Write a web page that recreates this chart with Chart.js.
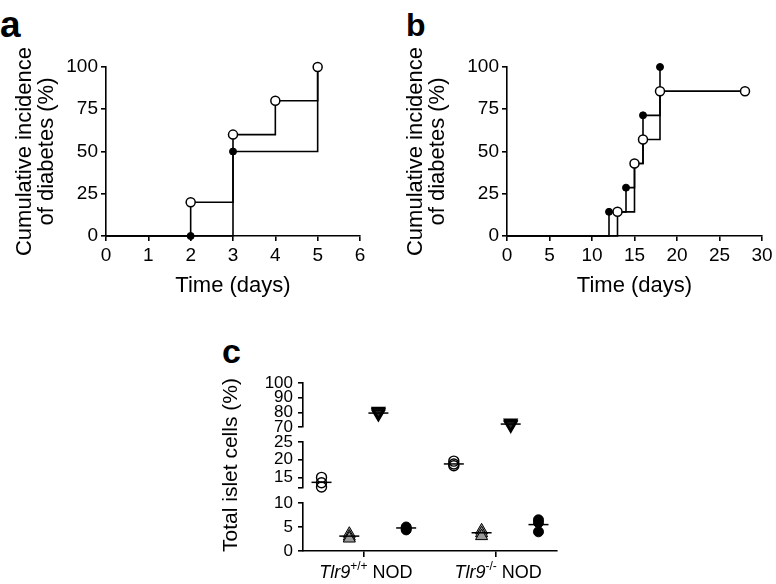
<!DOCTYPE html>
<html>
<head>
<meta charset="utf-8">
<script src="https://cdn.jsdelivr.net/npm/chart.js@4"></script>
<style>
  body { margin: 0; width: 776px; height: 584px; position: relative; background: #fff; overflow: hidden; }
  .panel { position: absolute; }
  .tag { position: absolute; font-family: 'Liberation Sans', Arial, sans-serif; font-weight: bold; line-height: 1; color: #000; }
</style>
</head>
<body>
<div class="tag" style="left:0px;top:6px;font-size:37px">a</div>
<div class="tag" style="left:406px;top:9px;font-size:32px">b</div>
<div class="tag" style="left:222px;top:334px;font-size:34px">c</div>

<canvas class="panel" id="chartA" width="390" height="305" style="left:0;top:0"></canvas>
<canvas class="panel" id="chartB" width="386" height="305" style="left:390px;top:0"></canvas>
<canvas class="panel" id="chartC" width="400" height="284" style="left:180px;top:300px"></canvas>

<script>
// panel a - cumulative incidence (day, %)
const aOpenDays = [0, 2, 3, 4, 5];
const aOpenPct = [0, 20, 60, 80, 100];
const aFilledDays = [0, 2, 3, 5];
const aFilledPct = [0, 0, 50, 100];
const aDayTicks = [0, 1, 2, 3, 4, 5, 6];

// panel b
const bOpenDays = [0, 13, 15, 16, 18, 28];
const bOpenPct = [0, 14.3, 42.9, 57.1, 85.7, 85.7];
const bFilledDays = [0, 12, 14, 15, 16, 18];
const bFilledPct = [0, 14.3, 28.6, 42.9, 71.4, 100];
const bDayTicks = [0, 5, 10, 15, 20, 25, 30];

const incidenceTicks = [0, 25, 50, 75, 100];

// panel c - islet cell composition, one value per mouse, two genotypes
const groups = [1, 2];
const geneName = 'Tlr9';
const genotypes = ['+/+', '-/-'];
const strain = 'NOD';
const openCircle = [[15.0, 13.5, 12.3], [19.6, 18.8, 18.3]];
const openCircleMean = [13.6, 18.8];
const grayTriangle = [[3.6, 3.0, 2.6], [4.3, 3.7, 3.1]];
const grayTriangleMean = [3.1, 3.8];
const downTriangle = [[80.8, 80.0, 79.0], [72.8, 72.0, 71.3]];
const downTriangleMean = [79.5, 72.0];
const filledCircle = [[5.0, 4.7, 4.4], [6.5, 5.9, 4.0]];
const filledCircleMean = [4.8, 5.5];
const topTicks = [70, 80, 90, 100];
const midTicks = [12, 15, 20, 25];
const lowTicks = [0, 5, 10];

Chart.defaults.font.family = "'Liberation Sans', Arial, sans-serif";
Chart.defaults.color = '#000';

const toPoints = (xs, ys) => xs.map((x, i) => ({ x: x, y: ys[i] }));
const fixedTicks = list => scale => { scale.ticks = list.map(v => ({ value: v })); };

function survivalChart(id, openPts, filledPts, dayTicks, dayMax, yWidth, titlePad, rightPad) {
  new Chart(document.getElementById(id), {
    type: 'line',
    data: {
      datasets: [
        {
          label: 'open',
          data: openPts,
          stepped: true,
          borderColor: '#000',
          borderWidth: 1.6,
          pointBackgroundColor: '#fff',
          pointBorderColor: '#000',
          pointBorderWidth: 1.5,
          pointRadius: c => (c.raw && c.raw.x === 0 ? 0 : 4.5),
          clip: false
        },
        {
          label: 'filled',
          data: filledPts,
          stepped: true,
          borderColor: '#000',
          borderWidth: 1.6,
          pointBackgroundColor: '#000',
          pointBorderColor: '#000',
          pointBorderWidth: 1,
          pointRadius: c => (c.raw && c.raw.x === 0 ? 0 : 3.5),
          clip: false
        }
      ]
    },
    options: {
      responsive: false,
      animation: false,
      events: [],
      layout: { padding: { top: 67, right: rightPad, bottom: 0, left: 0 } },
      plugins: { legend: { display: false }, tooltip: { enabled: false } },
      scales: {
        x: {
          type: 'linear', min: 0, max: dayMax,
          afterBuildTicks: fixedTicks(dayTicks),
          ticks: { font: { size: 19 }, padding: 3, color: '#000' },
          grid: { drawOnChartArea: false, tickLength: 5, color: '#000', lineWidth: 1.6 },
          border: { color: '#000', width: 1.6 },
          title: { display: true, text: 'Time (days)', color: '#000', font: { size: 22, lineHeight: 1 }, padding: { top: 0, bottom: 8 } },
          afterFit: s => { s.height = 69; }
        },
        y: {
          type: 'linear', min: 0, max: 100,
          afterBuildTicks: fixedTicks(incidenceTicks),
          ticks: { font: { size: 19 }, padding: 3, color: '#000' },
          grid: { drawOnChartArea: false, tickLength: 5, color: '#000', lineWidth: 1.6 },
          border: { color: '#000', width: 1.6 },
          title: { display: true, text: ['Cumulative incidence', 'of diabetes (%)'], color: '#000', font: { size: 22, lineHeight: 1 }, padding: { top: titlePad, bottom: 0 } },
          afterFit: s => { s.width = yWidth; }
        }
      }
    }
  });
}

survivalChart('chartA', toPoints(aOpenDays, aOpenPct), toPoints(aFilledDays, aFilledPct), aDayTicks, 6, 106, 14, 30);
survivalChart('chartB', toPoints(bOpenDays, bOpenPct), toPoints(bFilledDays, bFilledPct), bDayTicks, 30, 117, 15, 14);

// panel c
const colShift = { openCircle: -0.32, grayTriangle: -0.11, downTriangle: 0.11, filledCircle: 0.32 };

function columnPoints(values, shift) {
  const pts = [];
  values.forEach((list, g) => list.forEach(v => pts.push({ x: groups[g] + shift, y: v })));
  return pts;
}
function meanPoints(means, shift) {
  return means.map((v, g) => ({ x: groups[g] + shift, y: v }));
}
function meanSet(means, shift, axis) {
  return {
    data: meanPoints(means, shift), yAxisID: axis,
    pointStyle: 'line', pointRadius: 10, pointBorderColor: '#000', pointBorderWidth: 1.5, clip: false
  };
}

const genotypeLabels = {
  id: 'genotypeLabels',
  afterDraw(chart) {
    const { ctx } = chart;
    const x = chart.scales.x;
    const family = "'Liberation Sans', Arial, sans-serif";
    ctx.save();
    ctx.fillStyle = '#000';
    ctx.textBaseline = 'alphabetic';
    ctx.textAlign = 'left';
    groups.forEach((g, i) => {
      const parts = [
        { t: geneName, f: 'italic 18px ' + family, dy: 0 },
        { t: genotypes[i], f: '12px ' + family, dy: -8 },
        { t: ' ' + strain, f: '18px ' + family, dy: 0 }
      ];
      let total = 0;
      parts.forEach(p => { ctx.font = p.f; p.w = ctx.measureText(p.t).width; total += p.w; });
      let cx = x.getPixelForValue(g) - total / 2 + 2;
      const base = x.top + 27;
      parts.forEach(p => { ctx.font = p.f; ctx.fillText(p.t, cx, base + p.dy); cx += p.w; });
    });
    ctx.restore();
  }
};

const segAxis = (min, max, ticks, weight, extra) => Object.assign({
  type: 'linear', axis: 'y', position: 'left', stack: 'cells', stackWeight: weight,
  min: min, max: max,
  afterBuildTicks: fixedTicks(ticks),
  ticks: { font: { size: 17, lineHeight: 1 }, padding: 5, color: '#000', autoSkip: false,
           callback: v => (v % 5 === 0 ? String(v) : '') },
  grid: { drawOnChartArea: false, tickLength: 5, color: '#000', lineWidth: 1.6 },
  border: { color: '#000', width: 1.6 },
  afterFit: s => { s.width = 123; }
}, extra || {});

const gapAxis = weight => ({
  type: 'linear', axis: 'y', position: 'left', stack: 'cells', stackWeight: weight,
  min: 0, max: 1,
  ticks: { display: false },
  grid: { display: false },
  border: { display: false },
  afterFit: s => { s.width = 123; }
});

new Chart(document.getElementById('chartC'), {
  type: 'scatter',
  data: {
    datasets: [
      meanSet(openCircleMean, colShift.openCircle, 'yMid'),
      meanSet(grayTriangleMean, colShift.grayTriangle, 'yLow'),
      meanSet(downTriangleMean, colShift.downTriangle, 'yTop'),
      meanSet(filledCircleMean, colShift.filledCircle, 'yLow'),
      {
        data: columnPoints(openCircle, colShift.openCircle), yAxisID: 'yMid',
        pointStyle: 'circle', pointRadius: 5, pointBackgroundColor: 'rgba(0,0,0,0)', pointBorderColor: '#000', pointBorderWidth: 1.4, clip: false
      },
      {
        data: columnPoints(grayTriangle, colShift.grayTriangle), yAxisID: 'yLow',
        pointStyle: 'triangle', pointRadius: 7, pointBackgroundColor: '#9a9a9a', pointBorderColor: '#000', pointBorderWidth: 1, clip: false
      },
      {
        data: columnPoints(downTriangle, colShift.downTriangle), yAxisID: 'yTop',
        pointStyle: 'triangle', rotation: 180, pointRadius: 7, pointBackgroundColor: 'rgba(0,0,0,0.45)', pointBorderColor: '#000', pointBorderWidth: 1.8, clip: false
      },
      {
        data: columnPoints(filledCircle, colShift.filledCircle), yAxisID: 'yLow',
        pointStyle: 'circle', pointRadius: 5, pointBackgroundColor: '#000', pointBorderColor: '#000', pointBorderWidth: 1, clip: false
      }
    ]
  },
  options: {
    responsive: false,
    animation: false,
    events: [],
    layout: { padding: { top: 83, right: 23, bottom: 0, left: 0 } },
    plugins: { legend: { display: false }, tooltip: { enabled: false } },
    scales: {
      x: {
        type: 'linear', min: 0.54, max: 2.46,
        afterBuildTicks: fixedTicks(groups),
        ticks: { callback: () => '', font: { size: 18 } },
        grid: { drawOnChartArea: false, tickLength: 6, color: '#000', lineWidth: 1.6 },
        border: { color: '#000', width: 1.6 },
        afterFit: s => { s.height = 33; }
      },
      yLow: segAxis(0, 10, lowTicks, 48),
      gapLow: gapAxis(15),
      yMid: segAxis(12, 25, midTicks, 46, {
        title: { display: true, text: 'Total islet cells (%)', color: '#000', font: { size: 21, lineHeight: 1 }, padding: { top: 41, bottom: 0 } }
      }),
      gapHigh: gapAxis(15),
      yTop: segAxis(70, 100, topTicks, 44)
    }
  },
  plugins: [genotypeLabels]
});
</script>
</body>
</html>
